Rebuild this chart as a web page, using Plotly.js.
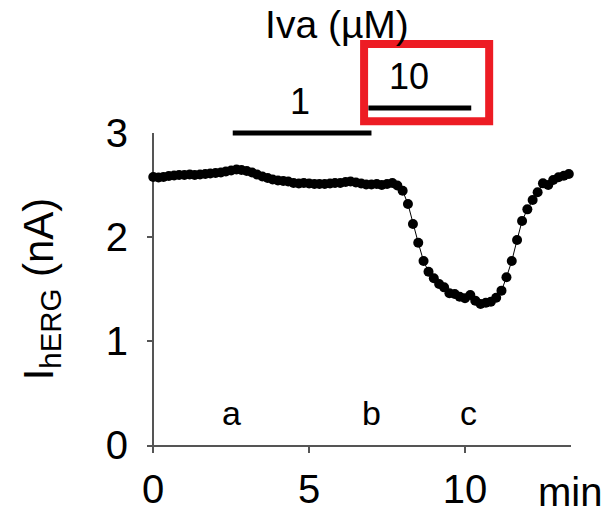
<!DOCTYPE html>
<html>
<head>
<meta charset="utf-8">
<script src="https://cdn.plot.ly/plotly-3.0.1.min.js"></script>
<style>html,body{margin:0;padding:0;background:#fff;}#chart{width:608px;height:513px;}</style>
</head>
<body>
<div id="chart"></div>
<script>
// time (min), sampled every ~10 s
const timeMin = [0.00,0.17,0.33,0.50,0.67,0.83,1.00,1.17,1.33,1.50,1.67,1.83,2.00,2.17,2.33,2.50,2.67,2.83,3.00,3.17,3.33,3.50,3.67,3.83,4.00,4.17,4.33,4.50,4.67,4.83,5.00,5.17,5.33,5.50,5.67,5.83,6.00,6.17,6.33,6.50,6.67,6.83,7.00,7.17,7.33,7.50,7.67,7.83,8.00,8.17,8.33,8.50,8.67,8.83,9.00,9.17,9.33,9.50,9.67,9.83,10.00,10.17,10.33,10.50,10.67,10.83,11.00,11.17,11.33,11.50,11.67,11.83,12.00,12.17,12.33,12.50,12.67,12.83,13.00,13.17,13.33];
// hERG current (nA)
const currentNA = [2.577,2.572,2.577,2.587,2.591,2.596,2.596,2.601,2.596,2.601,2.606,2.611,2.615,2.620,2.630,2.639,2.649,2.644,2.635,2.620,2.601,2.582,2.567,2.553,2.543,2.538,2.534,2.519,2.514,2.519,2.514,2.510,2.510,2.510,2.514,2.519,2.519,2.529,2.534,2.524,2.514,2.505,2.505,2.510,2.500,2.510,2.519,2.495,2.445,2.317,2.125,1.945,1.769,1.666,1.603,1.548,1.516,1.459,1.452,1.426,1.411,1.442,1.388,1.356,1.368,1.378,1.416,1.484,1.613,1.769,1.971,2.154,2.266,2.356,2.430,2.516,2.500,2.548,2.574,2.589,2.606];
// drug applications (Iva, µM)
const drugConc = ['1', '10'];
const drugStart = [2.55, 6.9];
const drugEnd = [7.0, 10.2];
// sample labels
const sampleLabels = ['a', 'b', 'c'];
const sampleTimes = [2.52, 7.01, 10.12];
// tick values
const xTicks = [0, 5, 10];
const yTicks = [0, 1, 2, 3];

const FONT = 'Liberation Sans, Arial, sans-serif';
const barLevels = [1.0, 1.08];       // paper y of bars
const labelLevels = [1.10, 1.18];    // paper y of concentration labels
const labelX = [4.70, 8.20];

const shapes = [];
const annotations = [];
drugConc.forEach((c, i) => {
  shapes.push({type: 'line', xref: 'x', yref: 'paper', x0: drugStart[i], x1: drugEnd[i],
    y0: barLevels[i], y1: barLevels[i], line: {color: '#000', width: 5}});
  annotations.push({xref: 'x', yref: 'paper', x: labelX[i], y: labelLevels[i], text: c,
    showarrow: false, xanchor: 'center', yanchor: 'middle', font: {family: FONT, size: 36, color: '#000'}});
});
sampleLabels.forEach((s, i) => {
  annotations.push({xref: 'x', yref: 'y', x: sampleTimes[i], y: 0.31, text: s,
    showarrow: false, xanchor: 'center', yanchor: 'middle', font: {family: FONT, size: 34, color: '#000'}});
});
annotations.push({xref: 'paper', yref: 'paper', x: 0.9976, y: -0.152, text: 'min',
  showarrow: false, xanchor: 'center', yanchor: 'middle', font: {family: FONT, size: 40, color: '#000'}});
// highlight box
shapes.push({type: 'rect', xref: 'paper', yref: 'paper', x0: 0.512, x1: 0.807, y0: 1.038, y1: 1.285,
  line: {color: '#ed1c24', width: 8}, fillcolor: 'rgba(0,0,0,0)'});

const trace = {
  x: timeMin, y: currentNA, type: 'scatter', mode: 'lines+markers',
  line: {color: '#000', width: 1}, marker: {color: '#000', size: 10},
  cliponaxis: false, hoverinfo: 'skip'
};

const layout = {
  width: 608, height: 513,
  margin: {l: 147, r: 37, t: 133, b: 68, pad: 0},
  paper_bgcolor: '#fff', plot_bgcolor: '#fff',
  showlegend: false,
  title: {text: 'Iva (µM)', xref: 'paper', x: 0.448, xanchor: 'center', yref: 'container', y: 0.952, yanchor: 'middle',
    font: {family: FONT, size: 39, color: '#000'}},
  xaxis: {range: [-0.2, 13.4], tickvals: xTicks, ticktext: xTicks.map(String), ticks: 'outside', ticklen: 6,
    tickcolor: '#555', tickwidth: 1.5, showline: true, linecolor: '#555', linewidth: 1.5,
    showgrid: false, zeroline: true, zerolinecolor: '#555', zerolinewidth: 1.5,
    tickfont: {family: FONT, size: 40, color: '#000'}, ticklabelstandoff: 2, fixedrange: true},
  yaxis: {range: [0, 3], tickvals: yTicks, ticktext: yTicks.map(String), ticks: 'inside', ticklen: 6,
    tickcolor: '#555', tickwidth: 1.5, showline: false, showgrid: false, zeroline: false,
    tickfont: {family: FONT, size: 40, color: '#000'}, ticklabelstandoff: 18,
    title: {text: 'I<sub>hERG</sub> (nA)', font: {family: FONT, size: 42, color: '#000'}, standoff: 39},
    fixedrange: true},
  shapes: shapes,
  annotations: annotations
};

Plotly.newPlot('chart', [trace], layout, {displayModeBar: false, staticPlot: true});
</script>
</body>
</html>
